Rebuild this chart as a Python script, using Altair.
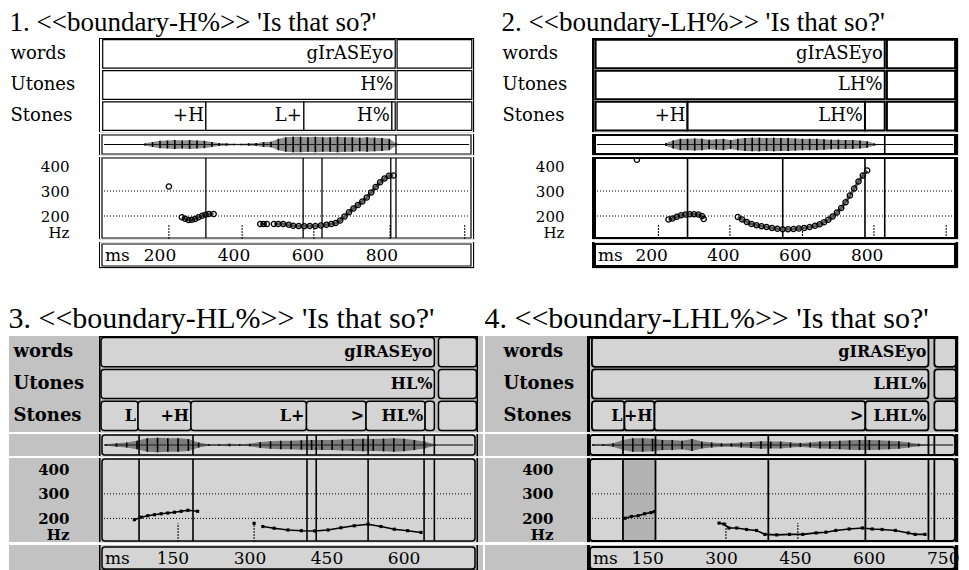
import altair as alt
import pandas as pd

SERIF = "DejaVu Serif"
TSERIF = "Liberation Serif"
TIERS = ["words", "Utones", "Stones"]

# ---------------- Panel 1 ----------------
p1_title = "1. <<boundary-H%>> 'Is that so?'"
p1_words = [(45, 836, "gIrASEyo"), (841, 1043, "")]
p1_utones = [(45, 836, "H%"), (841, 1043, "")]
p1_stones = [(45, 324, "+H"), (324, 589, "L+"), (589, 827, "H%"), (827, 836, ""), (841, 1043, "")]
p1_lines = [324, 587, 638, 824, 838]
p1_pitch_ms = [224, 259, 268, 277, 286, 295, 304, 314, 323, 332, 345, 471, 480, 489,
               508, 520, 533, 548, 560, 575, 590, 605, 620, 635, 650, 663, 675, 687, 699,
               711, 723, 735, 747, 759, 771, 783, 795, 807, 819, 831]
p1_pitch_hz = [318, 195, 189, 184, 185, 188, 195, 201, 205, 208, 208, 168, 168, 168,
               168, 168, 168, 165, 161, 160, 159, 160, 160, 162, 165, 168, 172, 182, 198,
               215, 230, 244, 258, 274, 294, 316, 335, 350, 361, 362]
p1_pitch_seg = [0] + [1] * 10 + [2] * 3 + [3] * 26
p1_wave_ms = [160, 180, 200, 220, 240, 260, 280, 300, 320, 340, 360, 380, 400, 420, 440, 460, 480,
              500, 520, 540, 560, 580, 600, 620, 640, 660, 680, 700, 720, 740, 760, 780, 800, 820, 840]
p1_wave_amp = [0.15, 0.3, 0.45, 0.5, 0.55, 0.5, 0.55, 0.5, 0.45, 0.3, 0.2, 0.15, 0.1, 0.1, 0.15, 0.2, 0.3,
               0.35, 0.7, 0.9, 0.95, 0.95, 0.9, 0.95, 0.9, 0.9, 0.95, 0.9, 0.9, 0.85, 0.9, 0.85, 0.8, 0.7, 0.1]
p1_ticks = [200, 400, 600, 800]
p1_marks = [224, 422, 616, 822, 1024]

# ---------------- Panel 2 ----------------
p2_title = "2. <<boundary-LH%>> 'Is that so?'"
p2_words = [(44, 849, "gIrASEyo"), (855, 1045, "")]
p2_utones = [(44, 849, "LH%"), (855, 1045, "")]
p2_stones = [(44, 300, "+H"), (300, 794, "LH%"), (794, 849, ""), (855, 1045, "")]
p2_lines = [300, 565, 794, 849]
p2_pitch_ms = [159, 247, 258, 270, 282, 294, 306, 318, 330, 340, 345,
               440, 452, 465, 478, 492, 506, 520, 535, 550, 565, 580, 595, 610, 625, 640, 655,
               668, 680, 692, 704, 716, 728, 740, 752, 764, 776, 788, 800]
p2_pitch_hz = [425, 186, 190, 197, 203, 206, 207, 207, 206, 200, 188,
               196, 186, 176, 168, 163, 159, 156, 152, 149, 147, 147, 148, 150, 152, 156, 161,
               167, 175, 185, 198, 214, 232, 255, 282, 310, 338, 362, 382]
p2_pitch_seg = [0] + [1] * 10 + [2] * 28
p2_wave_ms = [240, 260, 280, 300, 320, 340, 360, 380, 400, 420, 440, 460, 480, 500, 520,
              540, 560, 580, 600, 620, 640, 660, 680, 700, 720, 740, 760, 780, 800, 820]
p2_wave_amp = [0.2, 0.5, 0.7, 0.7, 0.75, 0.7, 0.6, 0.65, 0.7, 0.55, 0.7, 0.8, 0.85, 0.85, 0.8,
               0.85, 0.8, 0.8, 0.75, 0.7, 0.7, 0.7, 0.65, 0.6, 0.6, 0.55, 0.55, 0.5, 0.4, 0.15]
p2_ticks = [200, 400, 600, 800]
p2_marks = [219, 418, 620, 819, 1020]

# ---------------- Panel 3 ----------------
p3_title = "3. <<boundary-HL%>> 'Is that so?'"
p3_words = [(10, 659, "gIRASEyo"), (667, 741, "")]
p3_utones = [(10, 659, "HL%"), (667, 741, "")]
p3_stones = [(10, 82, "L"), (82, 185, "+H"), (185, 410, "L+"), (410, 526, ">"),
             (526, 641, "HL%"), (641, 659, ""), (667, 741, "")]
p3_lines = [84, 189, 411, 429, 530, 639, 659]
p3_pitch_ms = [75, 88, 101, 114, 127, 140, 153, 166, 179, 198, 308,
               325, 347, 374, 400, 426, 452, 477, 503, 530, 555, 581, 607, 633]
p3_pitch_hz = [195, 205, 211, 215, 219, 222, 225, 229, 233, 229, 180,
               167, 160, 153, 150, 149, 153, 162, 170, 176, 167, 156, 150, 143]
p3_pitch_seg = [1] * 10 + [2] + [3] * 13
p3_wave_ms = [20, 40, 60, 80, 100, 120, 140, 160, 180, 200, 220, 240, 260, 280, 300, 320, 340,
              360, 380, 400, 420, 440, 460, 480, 500, 520, 540, 560, 580, 600, 620, 640, 660]
p3_wave_amp = [0.1, 0.2, 0.3, 0.5, 0.8, 0.85, 0.8, 0.8, 0.7, 0.3, 0.1, 0.1, 0.15, 0.1, 0.15, 0.35, 0.45,
               0.5, 0.5, 0.55, 0.6, 0.6, 0.6, 0.65, 0.7, 0.75, 0.7, 0.75, 0.8, 0.75, 0.6, 0.4, 0.1]
p3_ticks = [150, 300, 450, 600]
p3_marks = [160, 308]

# ---------------- Panel 4 ----------------
p4_title = "4. <<boundary-LHL%>> 'Is that so?'"
p4_words = [(37, 720, "gIRASEyo"), (732, 776, "")]
p4_utones = [(37, 720, "LHL%"), (732, 776, "")]
p4_stones = [(37, 103, "L"), (103, 164, "+H"), (164, 592, ">"), (592, 720, "LHL%"), (732, 776, "")]
p4_lines = [100, 166, 395, 592, 720, 732]
p4_pitch_ms = [104, 117, 131, 144, 157, 164,
               295, 305, 315, 331, 351, 371, 388, 412, 438, 465, 492, 512, 532, 559, 586,
               606, 626, 653, 679, 693, 713]
p4_pitch_hz = [201, 208, 211, 219, 224, 228,
               181, 177, 161, 161, 155, 151, 135, 133, 135, 135, 141, 144, 151, 157, 161,
               157, 155, 151, 141, 135, 135]
p4_pitch_seg = [1] * 6 + [2] * 21
p4_wave_ms = [40, 60, 80, 100, 120, 140, 160, 180, 200, 220, 240, 260, 280, 300, 320, 340, 360, 380,
              400, 420, 440, 460, 480, 500, 520, 540, 560, 580, 600, 620, 640, 660, 680, 700, 720]
p4_wave_amp = [0.1, 0.1, 0.2, 0.6, 0.8, 0.8, 0.75, 0.6, 0.6, 0.5, 0.7, 0.4, 0.3, 0.2, 0.2, 0.3, 0.35, 0.45,
               0.4, 0.4, 0.3, 0.25, 0.3, 0.4, 0.45, 0.5, 0.55, 0.6, 0.6, 0.55, 0.5, 0.45, 0.3, 0.15, 0.05]
p4_ticks = [150, 300, 450, 600, 750]
p4_marks = [309, 455]
p4_shade = [(100, 166)]

DUMMY = pd.DataFrame({"k": [0]})


def tier_df(words, utones, stones):
    rows = []
    for name, segs in zip(TIERS, [words, utones, stones]):
        for s, e, t in segs:
            rows.append({"tier": name, "start": s, "end": e, "text": t})
    return pd.DataFrame(rows)


def frame(p, H, top=False, bottom=False):
    W, fw = p["W"], p["fw"]
    h = fw / 2
    out = [
        alt.Chart(DUMMY).mark_rule(color="black", strokeWidth=fw, clip=True).encode(
            x=alt.value(h), y=alt.value(0), y2=alt.value(H)),
        alt.Chart(DUMMY).mark_rule(color="black", strokeWidth=fw, clip=True).encode(
            x=alt.value(W - h), y=alt.value(0), y2=alt.value(H)),
    ]
    if top:
        out.append(alt.Chart(DUMMY).mark_rule(color="black", strokeWidth=fw, clip=True).encode(
            x=alt.value(0), x2=alt.value(W), y=alt.value(h)))
    if bottom:
        out.append(alt.Chart(DUMMY).mark_rule(color="black", strokeWidth=fw, clip=True).encode(
            x=alt.value(0), x2=alt.value(W), y=alt.value(H - h)))
    return out


def bg(p, H):
    if p["bg"] is None:
        return []
    return [alt.Chart(DUMMY).mark_rect(color=p["bg"]).encode(
        x=alt.value(-p["bgl"]), x2=alt.value(p["W"] + p["bgr"]), y=alt.value(0), y2=alt.value(H))]


def box(p, H, y0=2, y1=1):
    return alt.Chart(DUMMY).mark_rect(fill=p["boxfill"], stroke="black", strokeWidth=p["bw"],
                                      cornerRadius=p["cr"], clip=True).encode(
        x=alt.value(3), x2=alt.value(p["W"] - 3), y=alt.value(y0), y2=alt.value(H - y1))


def panel(p):
    W = p["W"]
    xs = alt.Scale(domain=p["xdom"], nice=False, zero=False)

    def X(f):
        return alt.X(f, scale=xs, axis=None)

    # ---- tiers ----
    H1 = p["h_tiers"]
    tdf = tier_df(p["words"], p["utones"], p["stones"])
    yax = alt.Axis(title=None, domain=False, ticks=False, labelFont=SERIF, labelFontSize=18,
                   labelAlign="left", labelPadding=p["lp"], labelColor="black",
                   labelFontWeight=p["lw"], zindex=1)
    tsc = alt.Scale(paddingInner=0.08, paddingOuter=0.05)
    rect = alt.Chart(tdf).mark_rect(fill=p["boxfill"], stroke="black", strokeWidth=p["bw"],
                                    cornerRadius=p["cr"], clip=True).encode(
        x=X("start:Q"), x2="end:Q", y=alt.Y("tier:N", sort=TIERS, axis=yax, scale=tsc))
    txt = alt.Chart(tdf).mark_text(align="right", baseline="middle", dx=-2, font=SERIF,
                                   fontSize=p["tfs"], fontWeight=p["tw"], color="black").encode(
        x=X("end:Q"), y=alt.Y("tier:N", sort=TIERS, axis=yax, scale=tsc), text="text:N")
    tiers = alt.layer(*(bg(p, H1) + [rect, txt] + frame(p, H1, top=True))).properties(
        width=W, height=H1)

    # ---- waveform ----
    H2 = p["h_wave"]
    wdf = pd.DataFrame({"ms": p["wave_ms"], "hi": p["wave_amp"]})
    wdf["lo"] = -wdf["hi"]
    wy = alt.Scale(domain=[-1.3, 1.3])
    area = alt.Chart(wdf).mark_area(color="#333333", opacity=0.55).encode(
        x=X("ms:Q"), y=alt.Y("hi:Q", scale=wy, axis=None), y2="lo:Q")
    combs = alt.Chart(wdf).mark_rule(color="black", strokeWidth=1.6).encode(
        x=X("ms:Q"), y=alt.Y("hi:Q", scale=wy, axis=None), y2="lo:Q")
    center = alt.Chart(DUMMY).mark_rule(color="black", strokeWidth=1).encode(
        x=alt.value(5), x2=alt.value(W - 5), y=alt.value(H2 / 2))
    wl = pd.DataFrame({"ms": p["wave_lines"]})
    wsep = alt.Chart(wl).mark_rule(color="black", strokeWidth=p["lw_lines"], clip=True).encode(
        x=X("ms:Q"), y=alt.value(1), y2=alt.value(H2 - 1))
    wave = alt.layer(*(bg(p, H2) + [box(p, H2, 1, 1), center, area, combs, wsep] + frame(p, H2))).properties(
        width=W, height=H2)

    # ---- pitch ----
    H3 = p["h_pitch"]
    ys = alt.Scale(domain=p["ydom"], nice=False, zero=False)
    hzv = p["hz_at"]
    pax = alt.Axis(values=[hzv, 200, 300, 400],
                   labelExpr="datum.value == %d ? 'Hz' : datum.label" % hzv,
                   title=None, domain=False, ticks=False, grid=False, labelPadding=p["pp"],
                   labelFont=SERIF, labelFontSize=15, labelOverlap=False, labelColor="black",
                   labelFontWeight=p["lw"], labelBound=False, zindex=1)

    def Y(f):
        return alt.Y(f, scale=ys, axis=pax)

    layers = bg(p, H3) + [box(p, H3, 1, 1)]
    if p.get("shade"):
        sdf = pd.DataFrame({"s": [a for a, b in p["shade"]], "e": [b for a, b in p["shade"]]})
        layers.append(alt.Chart(sdf).mark_rect(color="#b3b3b3").encode(
            x=X("s:Q"), x2="e:Q", y=alt.value(2), y2=alt.value(H3 - 2)))
    grid = alt.Chart(pd.DataFrame({"hz": [200, 300]})).mark_rule(
        color="black", strokeWidth=1, strokeDash=[1, 2]).encode(
        y=Y("hz:Q"), x=alt.value(5), x2=alt.value(W - 5))
    vl = alt.Chart(pd.DataFrame({"ms": p["lines"]})).mark_rule(
        color="black", strokeWidth=p["lw_lines"], clip=True).encode(
        x=X("ms:Q"), y=alt.value(1), y2=alt.value(H3 - 1))
    mk = pd.DataFrame({"ms": p["marks"]})
    mk["lo"] = p["ydom"][0]
    mk["hi"] = p["mark_top"]
    marks = alt.Chart(mk).mark_rule(color="black", strokeWidth=1, strokeDash=[2, 1], clip=True).encode(
        x=X("ms:Q"), y=Y("lo:Q"), y2="hi:Q")
    pdf = pd.DataFrame({"ms": p["pitch_ms"], "hz": p["pitch_hz"], "seg": p["pitch_seg"]})
    line = alt.Chart(pdf).mark_line(color=p["line_color"], strokeWidth=p["line_w"], clip=True).encode(
        x=X("ms:Q"), y=Y("hz:Q"), detail="seg:N")
    if p["points"] == "circle":
        pts = alt.Chart(pdf).mark_point(shape="circle", filled=False, size=28, strokeWidth=1.3,
                                        color="black", opacity=1, clip=True).encode(
            x=X("ms:Q"), y=Y("hz:Q"))
    else:
        pts = alt.Chart(pdf).mark_square(size=10, color="black", opacity=1, clip=True).encode(
            x=X("ms:Q"), y=Y("hz:Q"))
    layers += [grid, vl, marks, line, pts] + frame(p, H3)
    pitch = alt.layer(*layers).properties(width=W, height=H3)

    # ---- ms axis row ----
    H4 = p["h_ms"]
    tk = pd.DataFrame({"ms": p["ticks"], "lab": [str(t) for t in p["ticks"]]})
    tlab = alt.Chart(tk).mark_text(font=SERIF, fontSize=17, color="black", baseline="middle").encode(
        x=X("ms:Q"), y=alt.value(H4 / 2 + 1), text="lab:N")
    mslab = alt.Chart(DUMMY).mark_text(font=SERIF, fontSize=17, color="black", baseline="middle",
                                       align="left", text="ms").encode(
        x=alt.value(6), y=alt.value(H4 / 2 + 1))
    msrow = alt.layer(*(bg(p, H4) + [box(p, H4, 2, 2), tlab, mslab] + frame(p, H4, bottom=True))).properties(
        width=W, height=H4)

    return alt.vconcat(tiers, wave, pitch, msrow, spacing=0).resolve_scale(
        x="independent", y="independent").properties(
        title=alt.TitleParams(p["title"], anchor="start", font=TSERIF, fontSize=p["title_size"],
                              fontWeight="normal", color="black", offset=p["title_off"]))


top_style = dict(bg=None, boxfill="white", cr=0, lw="normal", tw="normal", tfs=18, points="circle",
                 line_color="#555555", line_w=3, h_tiers=94, h_wave=21, h_pitch=82, h_ms=26,
                 title_size=27, title_off=1, bgl=0, bgr=0, hz_at=135)
bot_style = dict(bg="#c2c2c2", boxfill="#d4d4d4", cr=3, lw="bold", tw="bold", tfs=16, points="square",
                 line_color="black", line_w=1.6, h_tiers=96, h_wave=22, h_pitch=84, h_ms=26,
                 title_size=30, title_off=2, hz_at=133)

P1 = dict(top_style, title=p1_title, W=375, xdom=[35, 1049], ydom=[108, 436], words=p1_words,
          utones=p1_utones, stones=p1_stones, lines=p1_lines, wave_lines=[838],
          pitch_ms=p1_pitch_ms, pitch_hz=p1_pitch_hz, pitch_seg=p1_pitch_seg,
          wave_ms=p1_wave_ms, wave_amp=p1_wave_amp, ticks=p1_ticks, marks=p1_marks, mark_top=165,
          fw=1, bw=1.2, lw_lines=1.3, lp=89, pp=30)
P2 = dict(top_style, title=p2_title, W=366, xdom=[34, 1053], ydom=[108, 436], words=p2_words,
          utones=p2_utones, stones=p2_stones, lines=p2_lines, wave_lines=[849],
          pitch_ms=p2_pitch_ms, pitch_hz=p2_pitch_hz, pitch_seg=p2_pitch_seg,
          wave_ms=p2_wave_ms, wave_amp=p2_wave_amp, ticks=p2_ticks, marks=p2_marks, mark_top=165,
          fw=2.5, bw=2, lw_lines=1.6, lp=90, pp=28)
P3 = dict(bot_style, title=p3_title, W=379, xdom=[6, 744], ydom=[104, 446], words=p3_words,
          utones=p3_utones, stones=p3_stones, lines=p3_lines, wave_lines=p3_lines,
          pitch_ms=p3_pitch_ms, pitch_hz=p3_pitch_hz, pitch_seg=p3_pitch_seg,
          wave_ms=p3_wave_ms, wave_amp=p3_wave_amp, ticks=p3_ticks, marks=p3_marks, mark_top=180,
          fw=1.5, bw=1.5, lw_lines=1.6, lp=86, pp=30, bgl=90, bgr=5)
P4 = dict(bot_style, title=p4_title, W=371, xdom=[27, 780], ydom=[104, 446], words=p4_words,
          utones=p4_utones, stones=p4_stones, lines=p4_lines, wave_lines=p4_lines,
          pitch_ms=p4_pitch_ms, pitch_hz=p4_pitch_hz, pitch_seg=p4_pitch_seg,
          wave_ms=p4_wave_ms, wave_amp=p4_wave_amp, ticks=p4_ticks, marks=p4_marks, mark_top=181,
          shade=p4_shade, fw=3, bw=1.8, lw_lines=1.8, lp=84, pp=34, bgl=102, bgr=1)

row1 = alt.hconcat(panel(P1), panel(P2), spacing=26).resolve_scale(
    x="independent", y="independent")
row2 = alt.hconcat(panel(P3), panel(P4), spacing=0).resolve_scale(
    x="independent", y="independent")

chart = alt.vconcat(row1, row2, spacing=34).resolve_scale(
    x="independent", y="independent").properties(padding=0).configure_view(
    stroke=None).configure(background="white")

chart.save("out.html", embed_options={"renderer": "svg", "actions": False})
